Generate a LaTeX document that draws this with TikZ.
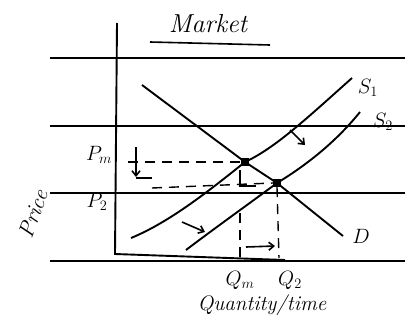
\documentclass[tikz,border=0pt]{standalone}
\usetikzlibrary{arrows.meta}
\begin{document}
\begin{tikzpicture}[x=1pt,y=-1pt,
  rule/.style={line width=2.2pt},
  curve/.style={line width=1.9pt},
  dashline/.style={line width=1.4pt,dash pattern=on 10pt off 7pt},
  shiftarrow/.style={line width=1.6pt,-{Straight Barb[length=5pt,width=8pt]}},
  lbl/.style={font=\fontsize{22}{26}\selectfont\itshape},
  dot/.style={fill=black,minimum size=8pt,inner sep=0pt,rectangle}]
\useasboundingbox (0,0) rectangle (405,324);
% ruled paper lines
\draw[rule] (50,58) -- (405,58);
\draw[rule] (50,126) -- (405,126);
\draw[rule] (50,193) -- (405,193);
\draw[rule] (50,261) -- (405,261);
% axes
\coordinate (ytop) at (117,23);
\coordinate (orig) at (115,254);
\coordinate (xend) at (285,260);
\draw[line width=1.9pt] (ytop) -- (orig) -- (xend);
% title
\node[font=\fontsize{26}{30}\selectfont\itshape] (title) at (208,24) {Market};
\draw[line width=1.6pt] (150,42) -- (270,45);
% equilibrium points
\node[dot] (em) at (245,162) {};
\node[dot] (e2) at (277,183) {};
% demand
\coordinate (d0) at (142,85);
\coordinate (d1) at (343,236);
\draw[curve] (d0) -- (em.center) -- (e2.center) -- (d1);
% supply 1
\coordinate (s1a) at (131,238);
\coordinate (s1b) at (352,78);
\draw[curve] (s1a) .. controls (170,222) and (210,190) .. (em.center)
  .. controls (275,148) and (305,120) .. (s1b);
% supply 2
\coordinate (s2a) at (186,250);
\coordinate (s2b) at (360,112);
\draw[curve] (s2a) .. controls (215,228) and (250,203) .. (e2.center)
  .. controls (305,166) and (335,143) .. (s2b);
% labels
\node[lbl] (S1) at (368,88) {$S_1$};
\node[lbl] (S2) at (383,122) {$S_2$};
\node[lbl] (D) at (361,236) {$D$};
\node[lbl] (Pm) at (99,155) {$P_m$};
\node[lbl] (P2) at (97,202) {$P_2$};
\node[font=\fontsize{22}{26}\selectfont\itshape,rotate=70] (price) at (33,214) {Price};
\node[lbl] (Qm) at (240,280) {$Q_m$};
\node[lbl] (Q2) at (290,280) {$Q_2$};
\node[font=\fontsize{21}{25}\selectfont\itshape] (qt) at (262,305) {Quantity/time};
% dashed guides
\coordinate (pmL) at (128,162);
\draw[dashline] (pmL) -- (em.west);
\coordinate (p2L) at (152,188);
\draw[dashline] (p2L) -- (e2.west);
\coordinate (qmB) at (240,258);
\draw[dashline] (240,213) -- (qmB);
\coordinate (q2B) at (279,258);
\draw[dashline] (e2.south) -- (q2B);
% L corner below Pm point
\draw[line width=1.4pt] (240,170) -- (240,186) -- (256,186);
% shift arrows
\coordinate (aa) at (136,147);
\coordinate (ab) at (136,177);
\draw[shiftarrow] (aa) -- (ab);
\draw[line width=1.4pt] (136,178) -- (152,178);
\coordinate (ba) at (182,222);
\coordinate (bb) at (205,232);
\draw[shiftarrow] (ba) -- (bb);
\coordinate (ca) at (290,130);
\coordinate (cb) at (305,145);
\draw[shiftarrow] (ca) -- (cb);
\coordinate (qa) at (246,247);
\coordinate (qb) at (275,246);
\draw[shiftarrow] (qa) -- (qb);
\end{tikzpicture}
\end{document}
